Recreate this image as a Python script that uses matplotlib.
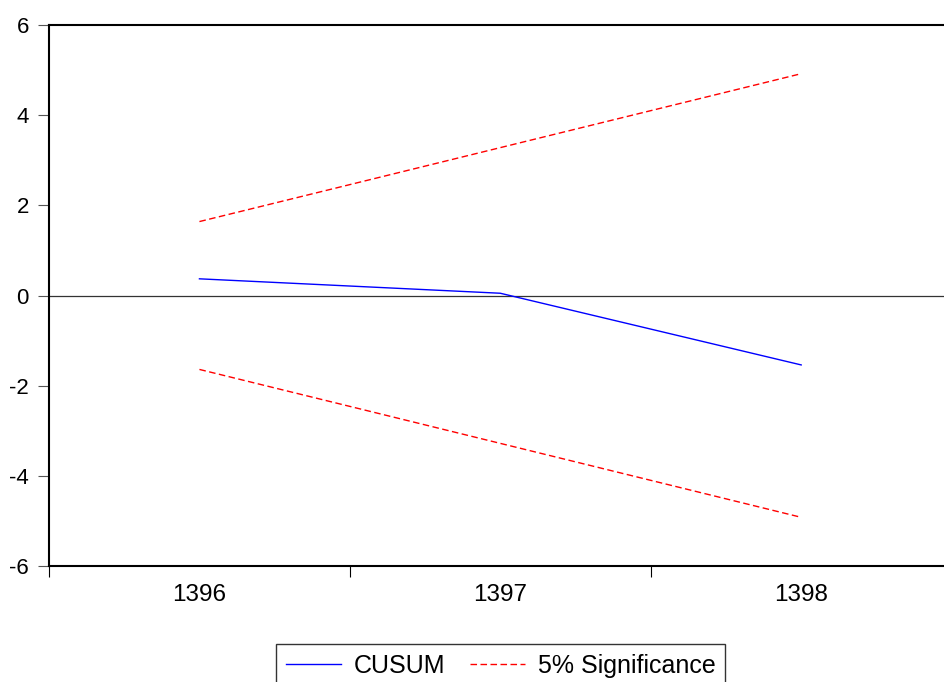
import matplotlib
matplotlib.use("Agg")
from matplotlib import pyplot as plt

plt.rcParams['font.family'] = ['Liberation Sans', 'DejaVu Sans']

# CUSUM test, periods 1396-1398
years = ["1396", "1397", "1398"]
cusum = [0.37, 0.05, -1.54]
upper = [1.64, 3.28, 4.92]
lower = [-1.64, -3.28, -4.92]

fig = plt.figure(figsize=(9.45, 6.82), dpi=100)
ax = fig.add_axes([49 / 945, 1 - 566 / 682, 1 - 49 / 945, (566 - 25) / 682])

x = list(range(len(years)))
dash = (0, (4.7, 2.5))
ax.plot(x, cusum, color="blue", linewidth=1.0, label="CUSUM")
ax.plot(x, upper, color="red", linewidth=1.0, linestyle=dash, label="5% Significance")
ax.plot(x, lower, color="red", linewidth=1.0, linestyle=dash)
ax.axhline(0, color="#333333", linewidth=0.9, zorder=1)

ax.set_ylim(-6, 6)
ax.set_yticks([-6, -4, -2, 0, 2, 4, 6])
ax.set_yticklabels(["-6", "-4", "-2", "0", "2", "4", "6"])
ax.set_xlim(-0.5, 2.478)
ax.set_xticks(x)
ax.set_xticklabels(years)
ax.set_xticks([-0.5, 0.5, 1.5], minor=True)

ax.tick_params(axis="y", length=8, width=0.8, color="#555555", pad=6.5, labelsize=16)
ax.tick_params(axis="x", which="major", length=0, pad=13, labelsize=17.5)
ax.tick_params(axis="x", which="minor", length=8, width=0.8, color="black")

ax.spines["right"].set_visible(False)
for s in ["top", "left", "bottom"]:
    ax.spines[s].set_linewidth(1.5)

leg = fig.legend(loc="upper center", bbox_to_anchor=(0.530, 1 - 644 / 682), ncol=2,
                 fontsize=18, frameon=True, fancybox=False, handlelength=2.2,
                 columnspacing=1.0, handletextpad=0.5, borderpad=0.4,
                 borderaxespad=0)
leg.get_frame().set_edgecolor("black")
leg.get_frame().set_linewidth(1.0)

fig.savefig("out.png", dpi=100)
